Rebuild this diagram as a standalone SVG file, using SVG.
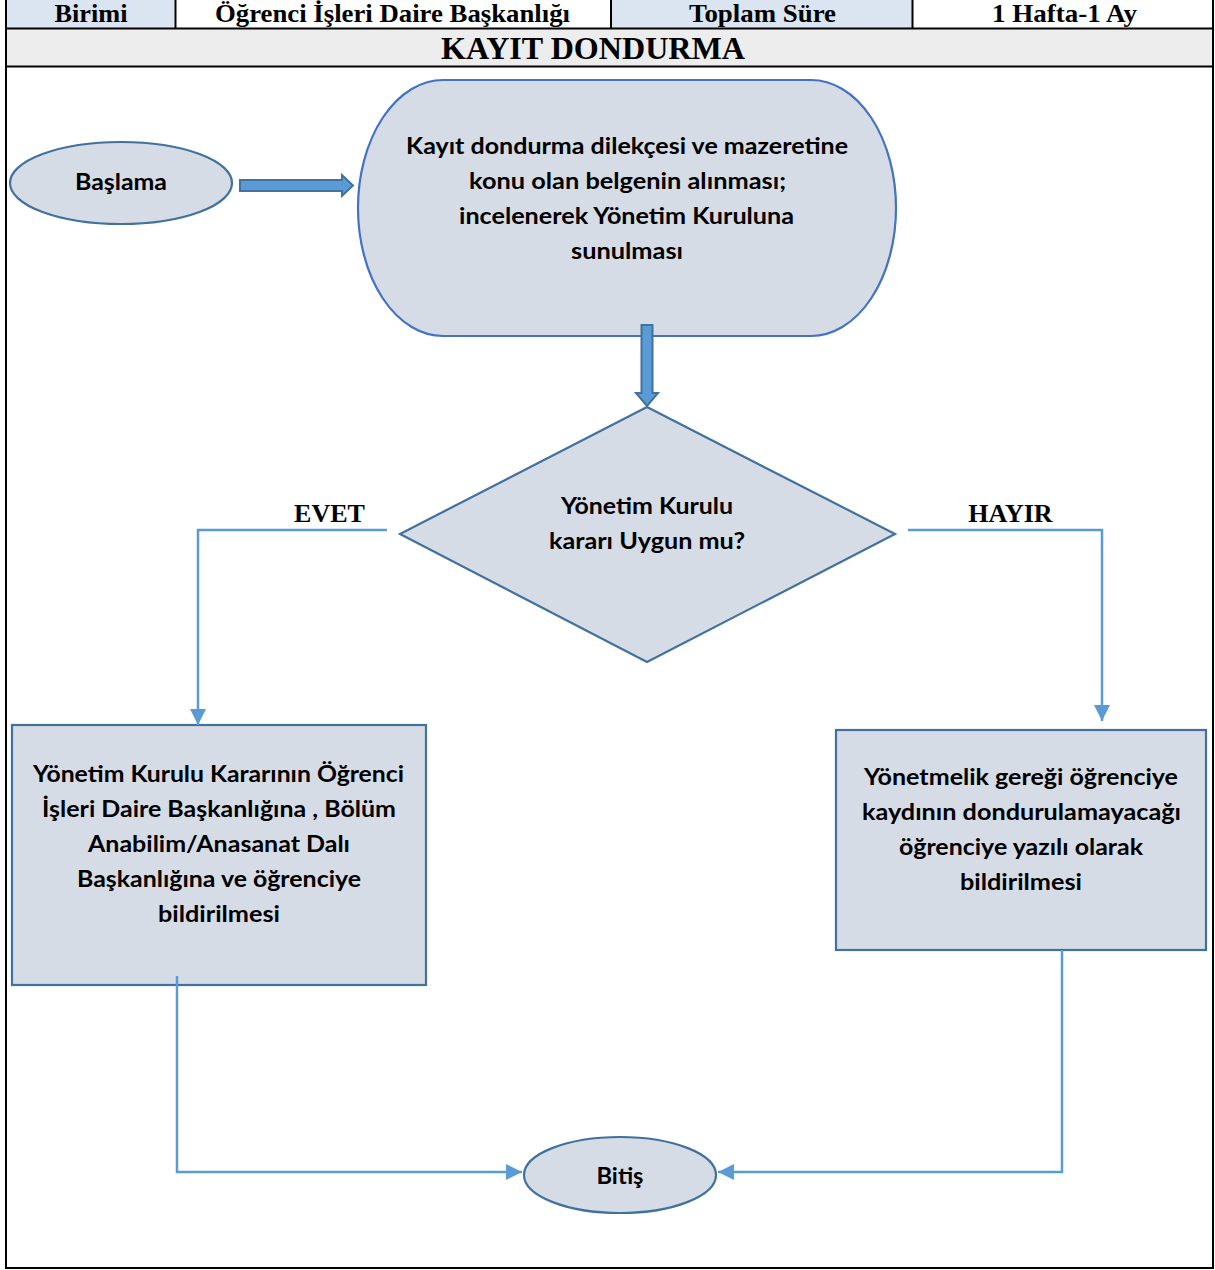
<svg xmlns="http://www.w3.org/2000/svg" width="1215" height="1270" viewBox="0 0 1215 1270">
<defs>
<style>
.hdr{font-family:"Liberation Serif","Times New Roman",serif;font-weight:bold;fill:#000;text-anchor:middle}
.txt{font-family:Lato,"Liberation Sans",Arial,sans-serif;font-weight:bold;font-size:22px;fill:#000;text-anchor:middle}
.lbl{font-family:"Liberation Serif","Times New Roman",serif;font-weight:bold;font-size:26px;fill:#000;text-anchor:middle}
.shape{fill:#d6dce5;stroke:#41719c;stroke-width:2.2}
.conn{fill:none;stroke:#5b9bd5;stroke-width:2.5}
.blk{fill:#5b9bd5;stroke:#41719c;stroke-width:2}
.grid{stroke:#000;stroke-width:2;fill:none}
</style>
<marker id="ah" viewBox="0 0 10 10" refX="10" refY="5" markerWidth="6.4" markerHeight="6.4" markerUnits="strokeWidth" orient="auto">
<path d="M0,0 L10,5 L0,10 Z" fill="#5b9bd5"/>
</marker>
</defs>
<rect x="0" y="0" width="1215" height="1270" fill="#fff"/>
<g id="header">
<rect x="6" y="0" width="169" height="28" fill="#dbe5f1"/>
<rect x="611" y="0" width="301" height="28" fill="#dbe5f1"/>
<rect x="6" y="28" width="1207" height="39" fill="#ededed"/>
<line class="grid" x1="6" y1="0" x2="6" y2="1269"/>
<line class="grid" x1="1213" y1="0" x2="1213" y2="1269"/>
<line class="grid" x1="5" y1="1268" x2="1214" y2="1268"/>
<line class="grid" x1="5" y1="28.5" x2="1214" y2="28.5"/>
<line class="grid" x1="5" y1="66.5" x2="1214" y2="66.5"/>
<line class="grid" x1="175.5" y1="0" x2="175.5" y2="28"/>
<line class="grid" x1="611" y1="0" x2="611" y2="28"/>
<line class="grid" x1="912.5" y1="0" x2="912.5" y2="28"/>
<text class="hdr" x="91" y="22" font-size="25" textLength="73" lengthAdjust="spacingAndGlyphs">Birimi</text>
<text class="hdr" x="392.5" y="22" font-size="25" textLength="355" lengthAdjust="spacingAndGlyphs">Öğrenci İşleri Daire Başkanlığı</text>
<text class="hdr" x="762.5" y="22" font-size="25" textLength="147" lengthAdjust="spacingAndGlyphs">Toplam Süre</text>
<text class="hdr" x="1064.5" y="22" font-size="25" textLength="145" lengthAdjust="spacingAndGlyphs">1 Hafta-1 Ay</text>
<text class="hdr" x="593" y="59" font-size="31" textLength="304" lengthAdjust="spacingAndGlyphs">KAYIT DONDURMA</text>
</g>
<g id="start">
<ellipse class="shape" cx="121" cy="183" rx="111" ry="41"/>
<text class="txt" x="121" y="190" textLength="92" lengthAdjust="spacingAndGlyphs">Başlama</text>
</g>
<g id="process1">
<path d="M443,80 L811,80 A85,128 0 0 1 811,336 L443,336 A85,128 0 0 1 443,80 Z" fill="#d6dce5" stroke="#4472c4" stroke-width="2.2"/>
<text class="txt" x="627" y="154" textLength="442" lengthAdjust="spacingAndGlyphs">Kayıt dondurma dilekçesi ve mazeretine</text>
<text class="txt" x="627.5" y="189" textLength="317" lengthAdjust="spacingAndGlyphs">konu olan belgenin alınması;</text>
<text class="txt" x="626.5" y="224" textLength="335" lengthAdjust="spacingAndGlyphs">incelenerek Yönetim Kuruluna</text>
<text class="txt" x="627" y="259" textLength="112" lengthAdjust="spacingAndGlyphs">sunulması</text>
</g>
<g id="decision">
<path class="shape" d="M647,407 L895,534 L647,662 L400,534 Z"/>
<text class="txt" x="647" y="514" textLength="172" lengthAdjust="spacingAndGlyphs">Yönetim Kurulu</text>
<text class="txt" x="647" y="549" textLength="196" lengthAdjust="spacingAndGlyphs">kararı Uygun mu?</text>
</g>
<g id="yes-box">
<rect class="shape" x="12" y="725" width="414" height="260"/>
<text class="txt" x="218.5" y="782" textLength="371" lengthAdjust="spacingAndGlyphs">Yönetim Kurulu Kararının Öğrenci</text>
<text class="txt" x="219" y="817" textLength="354" lengthAdjust="spacingAndGlyphs">İşleri Daire Başkanlığına , Bölüm</text>
<text class="txt" x="219" y="852" textLength="262" lengthAdjust="spacingAndGlyphs">Anabilim/Anasanat Dalı</text>
<text class="txt" x="219" y="887" textLength="284" lengthAdjust="spacingAndGlyphs">Başkanlığına ve öğrenciye</text>
<text class="txt" x="219" y="922" textLength="122" lengthAdjust="spacingAndGlyphs">bildirilmesi</text>
</g>
<g id="no-box">
<rect class="shape" x="836" y="730" width="370" height="220"/>
<text class="txt" x="1021" y="785" textLength="314" lengthAdjust="spacingAndGlyphs">Yönetmelik gereği öğrenciye</text>
<text class="txt" x="1021.5" y="820" textLength="319" lengthAdjust="spacingAndGlyphs">kaydının dondurulamayacağı</text>
<text class="txt" x="1021" y="855" textLength="244" lengthAdjust="spacingAndGlyphs">öğrenciye yazılı olarak</text>
<text class="txt" x="1021" y="890" textLength="122" lengthAdjust="spacingAndGlyphs">bildirilmesi</text>
</g>
<g id="end">
<ellipse class="shape" cx="620" cy="1175" rx="96" ry="38"/>
<text class="txt" x="620" y="1184" textLength="47" lengthAdjust="spacingAndGlyphs">Bitiş</text>
</g>
<g id="connectors">
<path class="blk" d="M240,180 L342,180 L342,175 L353,185.5 L342,196 L342,191 L240,191 Z"/>
<path class="blk" d="M641.5,325 L652.5,325 L652.5,393 L658,393 L647,406 L636,393 L641.5,393 Z"/>
<path class="conn" d="M387,530 L198,530 L198,725" marker-end="url(#ah)"/>
<path class="conn" d="M908,530 L1102,530 L1102,721" marker-end="url(#ah)"/>
<path class="conn" d="M177,976 L177,1172 L522,1172" marker-end="url(#ah)"/>
<path class="conn" d="M1062,950 L1062,1172 L718,1172" marker-end="url(#ah)"/>
<text class="lbl" x="329.5" y="522">EVET</text>
<text class="lbl" x="1010.5" y="522">HAYIR</text>
</g>
</svg>
